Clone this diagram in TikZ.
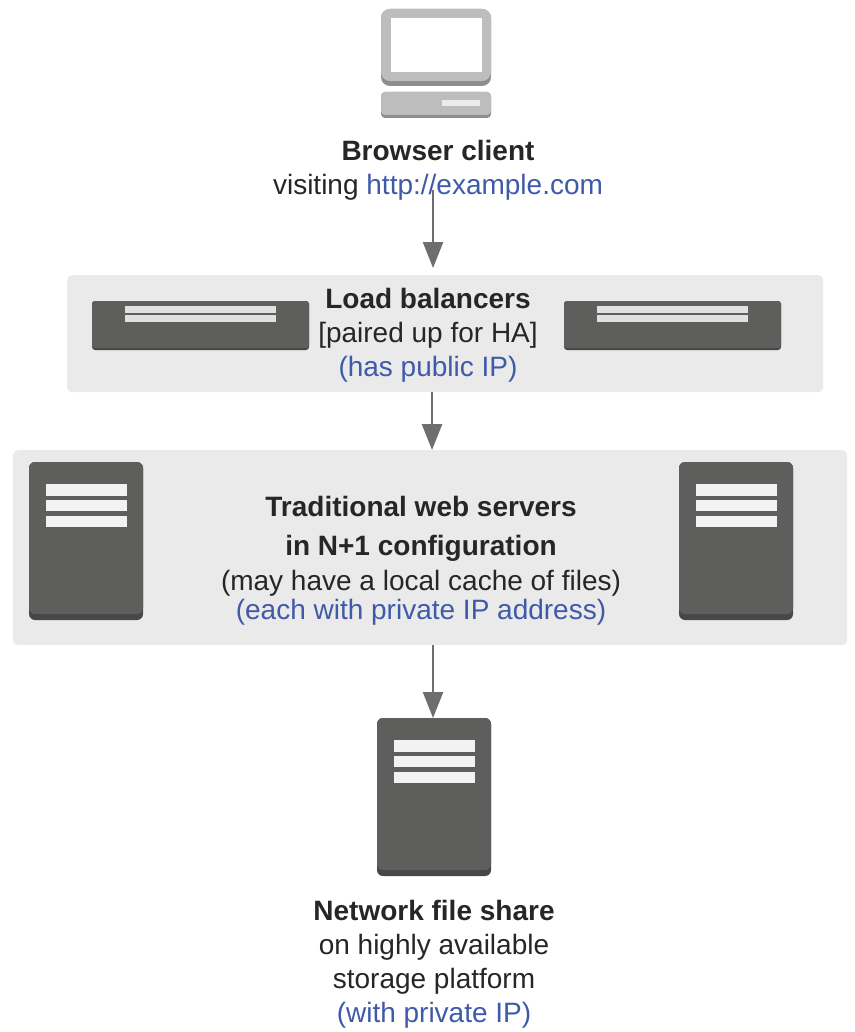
\documentclass[tikz,border=0pt]{standalone}
\usepackage{fontspec}
\setmainfont{Liberation Sans}
\usetikzlibrary{arrows.meta}
\definecolor{panelgray}{HTML}{EAEAEA}
\definecolor{icondark}{HTML}{5E5F5C}
\definecolor{iconshade}{HTML}{474846}
\definecolor{pclight}{HTML}{BDBDBD}
\definecolor{pcshade}{HTML}{8E8E8E}
\definecolor{linkblue}{HTML}{3F5AA8}
\definecolor{arrowgray}{HTML}{6E6E6E}
\tikzset{
 x=1pt,y=-1pt,
 panel/.style={fill=panelgray,rounded corners=5pt,draw=none,inner sep=0pt,anchor=north west},
 lbl/.style={align=center,font=\fontsize{28}{34}\selectfont,text=black!85,inner sep=0pt},
 flow/.style={draw=arrowgray,line width=2.5pt,-{Triangle[length=26pt,width=20pt,fill=arrowgray]},shorten >=0pt},
 dark/.style={fill=icondark,rounded corners=6pt},
 shade/.style={fill=iconshade,rounded corners=6pt},
 bar/.style={fill=white!95!black},
 lbar/.style={fill=white!88!black},
}
\newcommand{\srv}[3]{%
 \fill[shade] (#1,#2) rectangle ++(114,#3);
 \fill[dark] (#1,#2) rectangle ++(114,#3-6);
 \fill[bar] (#1+17,#2+22) rectangle ++(81,12);
 \fill[bar] (#1+17,#2+38) rectangle ++(81,11);
 \fill[bar] (#1+17,#2+54) rectangle ++(81,11);
}
\newcommand{\lbicon}[2]{%
 \fill[iconshade,rounded corners=3pt] (#1,#2) rectangle ++(217,49);
 \fill[icondark,rounded corners=3pt] (#1,#2) rectangle ++(217,47);
 \fill[lbar] (#1+33,#2+5) rectangle ++(151,7);
 \fill[lbar] (#1+33,#2+14) rectangle ++(151,7);
}
\begin{document}
\begin{tikzpicture}
\useasboundingbox (0,0) rectangle (854,1032);
\fill[white] (0,0) rectangle (854,1032);
% panels
\node[panel,minimum width=756pt,minimum height=117pt] (lbpanel) at (67,275) {};
\node[panel,minimum width=834pt,minimum height=195pt] (webpanel) at (13,450) {};
% computer
\fill[pcshade,rounded corners=9pt] (381,9) rectangle (491,86);
\fill[pclight,rounded corners=9pt] (381,9) rectangle (491,81);
\fill[white] (391,18) rectangle (482,72);
\fill[pcshade,rounded corners=4pt] (381,92) rectangle (491,118);
\fill[pclight,rounded corners=4pt] (381,92) rectangle (491,115);
\fill[white!92!black] (442,100) rectangle (480,106);
% load balancer icons
\lbicon{92}{301}
\lbicon{564}{301}
% servers
\srv{29}{462}{158}
\srv{679}{462}{158}
\srv{377}{718}{158}
\coordinate (shareTop) at (433,718);
% labels
\node[lbl] (client) at (438,170.5) {\textbf{Browser client}\\visiting \textcolor{linkblue}{http://example.com}};
\node[lbl] (lb) at (428,335) {\textbf{Load balancers}\\{[}paired up for HA{]}\\\textcolor{linkblue}{(has public IP)}};
\node[lbl] (web) at (421,560.5) {\textbf{Traditional web servers}\\[5pt]\textbf{in N+1 configuration}\\[1pt](may have a local cache of files)\\[-5pt]\textcolor{linkblue}{(each with private IP address)}};
\node[lbl] (share) at (434,964) {\textbf{Network file share}\\on highly available\\storage platform\\\textcolor{linkblue}{(with private IP)}};
% connectors
\coordinate (a1) at (433,190);
\coordinate (a1e) at (433,268);
\draw[flow] (a1) -- (a1e);
\draw[flow] (lbpanel.south -| 432,0) -- (webpanel.north -| 432,0);
\draw[flow] (webpanel.south -| 433,0) -- (shareTop);
\end{tikzpicture}
\end{document}
